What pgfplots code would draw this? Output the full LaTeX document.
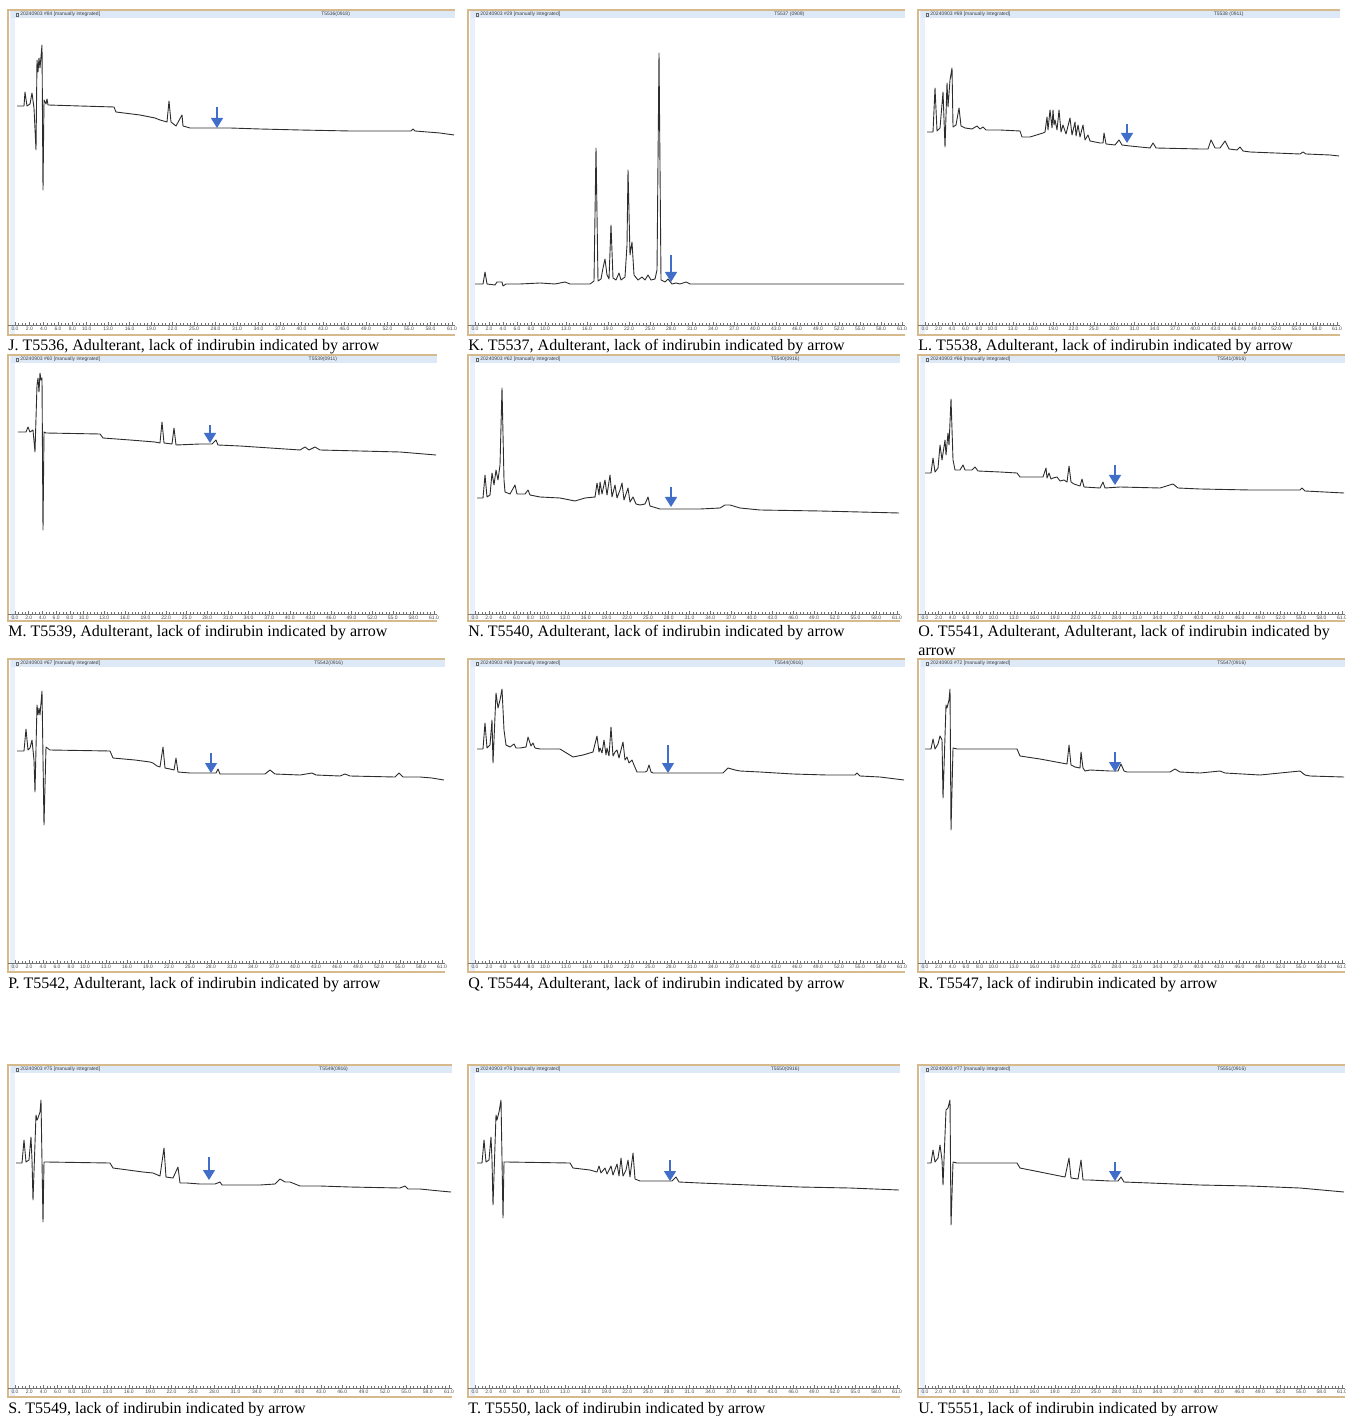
\documentclass[border=0pt]{standalone}
\usepackage{fontspec}
\setmainfont{Liberation Serif}
\setsansfont{Liberation Sans}
\usepackage{pgfplots}
\pgfplotsset{compat=1.18}
\usetikzlibrary{arrows.meta}
\definecolor{frametan}{RGB}{214,186,140}
\definecolor{hdrblue}{RGB}{222,233,248}
\definecolor{stripblue}{RGB}{233,240,251}
\definecolor{arrowblue}{RGB}{64,110,200}
\definecolor{trace}{RGB}{45,45,45}

\newcommand\setpanel[5]{%
  \def\pL{#1}\def\pR{#2}\def\pTop{#3}\def\pB{#4}\def\pBot{#5}%
  \pgfmathsetmacro\pT{#3+8}%
  \pgfmathsetmacro\pxa{#1+7}%
  \pgfmathsetmacro\ps{(#2-3-\pxa)/61}%
  \pgfmathsetmacro\pxmin{(#1-\pxa)/\ps}%
  \pgfmathsetmacro\pxmax{(#2-\pxa)/\ps}%
  \pgfmathsetmacro\pw{(#2-#1)*0.5}%
  \pgfmathsetmacro\ph{(#4-\pT)*0.5}%
  \pgfmathsetmacro\pymax{#4-\pT}%
  \pgfmathsetmacro\pax{#1*0.5}%
  \pgfmathsetmacro\pay{-#4*0.5}%
}
\newcommand\hdrfont{\sffamily\fontsize{2.5}{3}\selectfont}
\newcommand\capfont{\rmfamily\fontsize{8}{9.5}\selectfont}
\newcommand\drawframe[2]{%
 \begin{scope}[x=0.5pt,y=-0.5pt]
  \fill[stripblue] (\pL+2,\pTop+1) rectangle (\pL+7,\pBot-1);
  \fill[hdrblue] (\pL+3,\pTop+1) rectangle (\pR,\pT);
  \draw[frametan, line width=0.6pt] (\pR,\pTop) -- (\pL,\pTop) -- (\pL,\pBot) -- (\pR,\pBot);
  \draw[black!60, line width=0.2pt] (\pL+8,\pTop+3) rectangle (\pL+10,\pTop+6);
  \node[anchor=west, inner sep=0, font=\hdrfont, text=black!75] at (\pL+12,\pTop+4.5) {#1};
  \node[anchor=west, inner sep=0, font=\hdrfont, text=black!75] at ({\pL+0.70*(\pR-\pL)},\pTop+4.5) {#2};
 \end{scope}}
\newcommand\capt[3]{\node[anchor=base west, inner sep=0, font=\capfont] at ({#1*0.5pt},{-#2*0.5pt}) {#3};}

\pgfplotsset{
  panel/.style={
    at={(\pax pt,\pay pt)}, anchor=south west, scale only axis,
    width=\pw pt, height=\ph pt,
    xmin=\pxmin, xmax=\pxmax, ymin=0, ymax=\pymax,
    axis x line*=bottom, axis y line=none,
    axis line style={black!55, line width=0.35pt},
    xtick={0,2,4,6,8,10,13,16,19,22,25,28,31,34,37,40,43,46,49,52,55,58,61},
    minor xtick={0,0.5,...,61},
    xtick align=inside,
    major tick length=1.6pt, minor tick length=0.9pt,
    every tick/.style={black!55, line width=0.25pt},
    ytick=\empty,
    xticklabel style={font=\hdrfont, text=black!70, inner sep=0.6pt},
    /pgf/number format/.cd, fixed, fixed zerofill, precision=1, assume math mode=true, /pgfplots/.cd,
    x filter/.expression={(x-\pxa)/\ps},
    y filter/.expression={\pB-y},
    clip=false,
  },
  tr/.style={trace, line width=0.45pt, mark=none, line join=round},
  arr/.style={arrowblue, line width=0.7pt, mark=none, -{Triangle[width=6pt,length=5pt]}},
}

\begin{document}
\begin{tikzpicture}
\useasboundingbox (0,0) rectangle (672.5pt,-708pt);

% ---------------- J
\setpanel{8}{455}{10}{325}{335}
\drawframe{20240903 \#84 [manually integrated]}{T5536(0918)}
\begin{axis}[panel]
\addplot[tr] coordinates {(17,106)(24,106)(25,92)(27,106)(30,104)(32,93)(34,108)(36,150)(37,60)(38,72)(39,58)(40,68)(42,45)(43,190)(44,100)(46,104)(47,99)(48,105)(80,106)(114,107)(116,112)(140,115)(155,118)(160,120)(167,122)(169,101)(171,122)(176,126)(182,115)(183,126)(190,128)(216,128)(230,128)(260,129)(300,130)(350,131)(411,131)(413,129)(415,131)(440,133)(454,135)};
\addplot[arr] coordinates {(217,107)(217,128)};
\end{axis}
\capt{8}{351}{J. T5536, Adulterant, lack of indirubin indicated by arrow}

% ---------------- K
\setpanel{468}{905}{10}{325}{335}
\drawframe{20240903 \#29 [manually integrated]}{T5537 (0909)}
\begin{axis}[panel]
\addplot[tr] coordinates {(475,284)(483,284)(485,272)(487,284)(495,285)(497,282)(502,282)(503,286)(506,284)(520,284)(540,283)(555,284)(565,282)(570,284)(590,284)(594,281)(596,148)(598,281)(601,279)(603,268)(605,259)(607,275)(609,279)(611,225)(613,278)(616,280)(619,273)(621,280)(625,277)(627,245)(628,170)(630,255)(632,242)(634,275)(638,280)(642,277)(645,280)(648,275)(651,280)(655,279)(657,270)(659,53)(661,280)(665,282)(668,279)(672,284)(676,283)(680,284)(686,282)(690,284)(904,284)};
\addplot[arr] coordinates {(671,255)(671,282)};
\end{axis}
\capt{468}{351}{K. T5537, Adulterant, lack of indirubin indicated by arrow}

% ---------------- L
\setpanel{918}{1340}{10}{325}{335}
\drawframe{20240903 \#69 [manually integrated]}{T5538 (0911)}
\begin{axis}[panel]
\addplot[tr] coordinates {(927,132)(933,132)(935,88)(937,131)(940,128)(943,92)(945,147)(947,83)(948,107)(950,80)(952,68)(953,127)(956,125)(959,108)(961,126)(965,128)(972,129)(977,126)(980,129)(983,127)(986,130)(1000,130)(1020,131)(1022,137)(1030,137)(1043,133)(1045,132)(1047,117)(1048,130)(1050,110)(1052,128)(1053,110)(1054,125)(1055,120)(1057,130)(1059,110)(1061,132)(1063,125)(1066,134)(1070,118)(1072,135)(1075,122)(1076,136)(1078,125)(1080,137)(1083,125)(1085,140)(1088,135)(1090,141)(1100,143)(1103,143)(1104,133)(1106,144)(1115,145)(1119,140)(1122,145)(1130,146)(1150,148)(1153,143)(1156,148)(1200,149)(1208,149)(1211,140)(1215,148)(1220,148)(1225,141)(1229,149)(1237,150)(1240,147)(1243,151)(1250,152)(1300,154)(1303,152)(1306,154)(1330,155)(1339,156)};
\addplot[arr] coordinates {(1127,124)(1127,143)};
\end{axis}
\capt{918}{351}{L. T5538, Adulterant, lack of indirubin indicated by arrow}

% ---------------- M
\setpanel{8}{437}{355}{614}{621}
\drawframe{20240903 \#60 [manually integrated]}{T5539(0911)}
\begin{axis}[panel]
\addplot[tr] coordinates {(18,432)(26,432)(28,427)(30,432)(33,430)(35,452)(37,385)(38,378)(39,392)(40,373)(41,380)(42,378)(43,530)(44,432)(46,433)(100,434)(103,438)(130,440)(155,442)(160,443)(162,422)(164,443)(172,444)(174,428)(176,445)(200,444)(212,444)(216,440)(218,445)(240,446)(270,448)(300,450)(305,447)(309,450)(315,447)(320,450)(360,451)(400,452)(436,455)};
\addplot[arr] coordinates {(210,425)(210,443)};
\end{axis}
\capt{8}{636}{M. T5539, Adulterant, lack of indirubin indicated by arrow}

% ---------------- N
\setpanel{468}{900}{355}{614}{621}
\drawframe{20240903 \#62 [manually integrated]}{T5540(0916)}
\begin{axis}[panel]
\addplot[tr] coordinates {(477,498)(483,498)(485,475)(487,497)(490,495)(492,473)(494,485)(496,470)(498,480)(500,465)(502,388)(504,480)(505,492)(510,494)(515,485)(517,494)(525,494)(528,490)(530,495)(540,497)(560,498)(570,500)(575,501)(585,498)(595,497)(597,483)(599,495)(600,482)(602,494)(605,480)(607,495)(610,475)(612,497)(615,485)(617,498)(620,490)(622,483)(624,500)(628,488)(630,502)(633,497)(636,504)(640,505)(645,504)(648,497)(650,506)(660,509)(700,509)(720,508)(725,505)(730,505)(740,508)(760,510)(820,511)(860,512)(899,513)};
\addplot[arr] coordinates {(671,487)(671,507)};
\end{axis}
\capt{468}{636}{N. T5540, Adulterant, lack of indirubin indicated by arrow}

% ---------------- O
\setpanel{918}{1345}{355}{614}{621}
\drawframe{20240903 \#66 [manually integrated]}{T5541(0916)}
\begin{axis}[panel]
\addplot[tr] coordinates {(925,473)(931,473)(933,458)(935,472)(938,468)(940,445)(942,460)(945,440)(946,455)(948,433)(949,445)(951,399)(953,460)(955,470)(960,470)(963,465)(965,470)(972,470)(975,467)(978,471)(1000,472)(1017,473)(1020,477)(1043,477)(1046,468)(1047,478)(1049,473)(1051,479)(1053,478)(1057,477)(1060,481)(1064,480)(1067,482)(1069,466)(1071,482)(1074,484)(1077,485)(1080,486)(1082,479)(1084,487)(1100,488)(1103,482)(1105,488)(1120,487)(1160,488)(1173,484)(1178,488)(1200,489)(1250,490)(1300,490)(1302,488)(1305,491)(1344,493)};
\addplot[arr] coordinates {(1115,465)(1115,485)};
\end{axis}
\capt{918}{636}{O. T5541, Adulterant, Adulterant, lack of indirubin indicated by}
\capt{918}{655}{arrow}

% ---------------- P
\setpanel{8}{445}{659}{963}{972}
\drawframe{20240903 \#67 [manually integrated]}{T5542(0916)}
\begin{axis}[panel]
\addplot[tr] coordinates {(17,751)(24,751)(26,729)(28,750)(30,748)(32,740)(34,760)(35,792)(37,705)(38,715)(39,708)(40,715)(42,691)(44,825)(46,747)(50,750)(110,751)(113,758)(135,760)(150,762)(153,763)(157,766)(160,767)(163,747)(165,768)(170,769)(174,770)(176,758)(178,772)(190,773)(210,773)(216,773)(218,769)(220,774)(250,774)(265,774)(270,770)(275,774)(300,775)(312,773)(316,775)(340,776)(345,774)(350,776)(395,777)(399,773)(403,777)(420,777)(432,778)(444,780)};
\addplot[arr] coordinates {(211,753)(211,773)};
\end{axis}
\capt{8}{988}{P. T5542, Adulterant, lack of indirubin indicated by arrow}

% ---------------- Q
\setpanel{468}{905}{659}{963}{972}
\drawframe{20240903 \#69 [manually integrated]}{T5544(0916)}
\begin{axis}[panel]
\addplot[tr] coordinates {(477,749)(483,749)(485,723)(487,748)(490,745)(492,720)(493,763)(496,693)(498,708)(500,700)(502,689)(504,730)(506,745)(510,747)(514,744)(516,748)(520,748)(526,747)(528,737)(531,746)(533,743)(535,748)(540,749)(560,749)(573,757)(583,755)(593,752)(597,736)(599,752)(600,748)(602,753)(604,740)(606,755)(607,748)(609,756)(611,727)(613,756)(615,752)(617,750)(619,758)(623,742)(625,760)(627,757)(629,763)(632,760)(634,765)(637,772)(645,772)(647,771)(649,765)(651,772)(653,773)(700,773)(723,773)(728,768)(735,770)(740,771)(760,772)(793,774)(827,775)(855,775)(857,773)(860,776)(880,777)(904,780)};
\addplot[arr] coordinates {(668,745)(668,773)};
\end{axis}
\capt{468}{988}{Q. T5544, Adulterant, lack of indirubin indicated by arrow}

% ---------------- R
\setpanel{918}{1345}{659}{963}{972}
\drawframe{20240903 \#72 [manually integrated]}{T5547(0916)}
\begin{axis}[panel]
\addplot[tr] coordinates {(925,749)(931,749)(933,739)(935,749)(938,744)(940,736)(942,740)(943,798)(946,705)(947,708)(949,700)(950,689)(951,830)(953,748)(957,749)(1017,749)(1020,756)(1040,759)(1067,764)(1069,745)(1071,765)(1075,767)(1080,768)(1081,752)(1083,768)(1085,771)(1090,770)(1110,771)(1118,771)(1121,764)(1124,771)(1127,772)(1170,772)(1175,769)(1180,772)(1200,773)(1220,771)(1225,773)(1260,775)(1300,771)(1305,775)(1310,776)(1344,777)};
\addplot[arr] coordinates {(1115,752)(1115,772)};
\end{axis}
\capt{918}{988}{R. T5547, lack of indirubin indicated by arrow}

% ---------------- S
\setpanel{8}{452}{1065}{1388}{1397}
\drawframe{20240903 \#75 [manually integrated]}{T5549(0916)}
\begin{axis}[panel]
\addplot[tr] coordinates {(16,1163)(22,1163)(24,1140)(26,1162)(29,1160)(31,1137)(32,1160)(33,1200)(36,1115)(37,1120)(38,1118)(39,1115)(40,1112)(41,1100)(43,1222)(44,1162)(47,1162)(110,1163)(113,1168)(143,1172)(153,1173)(160,1176)(164,1148)(166,1177)(173,1178)(178,1167)(180,1183)(187,1183)(200,1184)(215,1184)(220,1182)(222,1185)(260,1185)(275,1184)(280,1179)(285,1182)(290,1182)(300,1186)(320,1186)(350,1187)(400,1188)(405,1186)(408,1189)(420,1189)(440,1191)(451,1192)};
\addplot[arr] coordinates {(209,1157)(209,1180)};
\end{axis}
\capt{8}{1413}{S. T5549, lack of indirubin indicated by arrow}

% ---------------- T
\setpanel{468}{900}{1065}{1388}{1397}
\drawframe{20240903 \#76 [manually integrated]}{T5550(0916)}
\begin{axis}[panel]
\addplot[tr] coordinates {(477,1163)(482,1163)(484,1140)(486,1162)(489,1160)(491,1137)(492,1160)(493,1205)(496,1115)(497,1120)(499,1112)(501,1100)(503,1218)(504,1162)(507,1162)(570,1163)(573,1168)(590,1170)(597,1172)(599,1166)(601,1173)(605,1168)(607,1174)(611,1166)(613,1175)(617,1164)(619,1176)(621,1158)(623,1176)(626,1170)(628,1160)(630,1177)(633,1153)(635,1179)(640,1181)(660,1181)(672,1181)(676,1177)(679,1182)(700,1183)(750,1185)(800,1187)(850,1188)(899,1190)};
\addplot[arr] coordinates {(670,1160)(670,1181)};
\end{axis}
\capt{468}{1413}{T. T5550, lack of indirubin indicated by arrow}

% ---------------- U
\setpanel{918}{1345}{1065}{1388}{1397}
\drawframe{20240903 \#77 [manually integrated]}{T5551(0916)}
\begin{axis}[panel]
\addplot[tr] coordinates {(927,1163)(931,1163)(933,1150)(935,1162)(938,1158)(940,1145)(942,1160)(943,1185)(946,1110)(948,1108)(950,1100)(951,1225)(953,1162)(957,1163)(1017,1163)(1020,1168)(1040,1172)(1065,1177)(1069,1158)(1071,1178)(1078,1179)(1081,1160)(1083,1180)(1090,1180)(1110,1181)(1118,1181)(1121,1177)(1124,1182)(1150,1183)(1200,1185)(1250,1186)(1300,1188)(1344,1192)};
\addplot[arr] coordinates {(1115,1162)(1115,1181)};
\end{axis}
\capt{918}{1413}{U. T5551, lack of indirubin indicated by arrow}

\end{tikzpicture}
\end{document}
